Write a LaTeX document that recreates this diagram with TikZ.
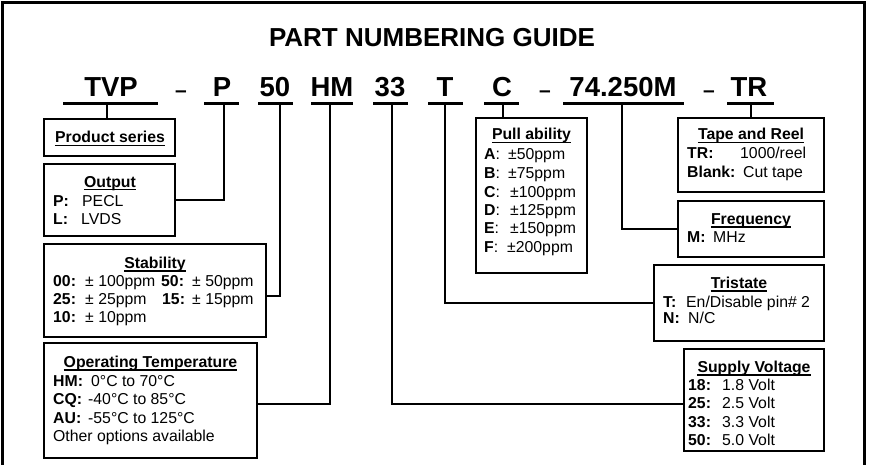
\documentclass[tikz,border=0pt]{standalone}
\usepackage{fontspec}
\setmainfont{Liberation Sans}
\newcommand{\bodyfont}{\fontsize{15.8}{18}\selectfont}
% box: name, centre x, centre y, width, height
\newcommand{\mkbox}[5]{\node[boxst, minimum width=#4pt, minimum height=#5pt] (#1) at (#2,#3) {};}
% heading: name, x, baseline y, text
\newcommand{\mkhd}[4]{\node[hdst] (#1) at (#2,#3) {#4};
  \draw[ulst] ([yshift=-2.8pt]#1.base west) -- ([yshift=-2.8pt]#1.base east);}
% key/value row: name, x label, x value, baseline y, label, value
\newcommand{\kv}[6]{\node[txtst] (#1a) at (#2,#4) {#5}; \node[txtst] (#1b) at (#3,#4) {#6};}
\begin{document}
\begin{tikzpicture}[x=1pt,y=-1pt,
  boxst/.style={draw, line width=2.6pt, rectangle, inner sep=0pt},
  txtst/.style={anchor=base west, inner sep=0pt, font=\bodyfont},
  hdst/.style={anchor=base, inner sep=0pt, font=\bodyfont\bfseries},
  ulst/.style={line width=1.4pt},
  codest/.style={anchor=base, inner sep=0pt, font=\fontsize{27.5}{30}\selectfont\bfseries},
  dashst/.style={anchor=base, inner sep=0pt, font=\fontsize{21}{24}\selectfont\bfseries},
  codeul/.style={line width=3pt},
  conn/.style={line width=2pt}]
\useasboundingbox (0,0) rectangle (872,465);
% outer frame
\draw[line width=3pt] (2.5,470) -- (2.5,2.5) -- (864.5,2.5) -- (864.5,470);
% title
\node[anchor=base, inner sep=0pt, font=\fontsize{26}{30}\selectfont\bfseries] (title) at (432,47) {PART NUMBERING GUIDE};
% part code
\node[codest] (cTVP) at (111,97) {TVP};
\node[dashst] (d1) at (181,98) {–};
\node[codest] (cP) at (222,97) {P};
\node[codest] (c50) at (275,97) {50};
\node[codest] (cHM) at (332,97) {HM};
\node[codest] (c33) at (390,97) {33};
\node[codest] (cT) at (445,97) {T};
\node[codest] (cC) at (502,97) {C};
\node[dashst] (d2) at (545,98) {–};
\node[codest] (cF) at (623,97) {74.250M};
\node[dashst] (d3) at (709,98) {–};
\node[codest] (cTR) at (749,97) {TR};
% underlines
\draw[codeul] (63,104) -- (158,104);
\draw[codeul] (204,104) -- (239,104);
\draw[codeul] (258,104) -- (293,104);
\draw[codeul] (311,104) -- (353,104);
\draw[codeul] (373,104) -- (408,104);
\draw[codeul] (428,104) -- (463,104);
\draw[codeul] (484,104) -- (519,104);
\draw[codeul] (563,104) -- (684,104);
\draw[codeul] (727,104) -- (774,104);
\coordinate (uTVP) at (107,104);
\coordinate (uP) at (224,104);
\coordinate (u50) at (280,104);
\coordinate (uHM) at (330,104);
\coordinate (u33) at (392,104);
\coordinate (uT) at (445,104);
\coordinate (uC) at (503,104);
\coordinate (uF) at (622,104);
\coordinate (uTR) at (751,104);
% boxes
\mkbox{prod}{109.5}{137.5}{131}{37}
\mkbox{out}{109.5}{200}{131}{72}
\mkbox{stab}{155}{290.5}{222}{93}
\mkbox{temp}{150.5}{400.5}{213}{115}
\mkbox{pull}{531.5}{195.5}{111}{155}
\mkbox{tape}{751}{155}{146}{74}
\mkbox{freq}{751}{229}{146}{56}
\mkbox{tri}{739}{303}{170}{76}
\mkbox{sup}{754}{400}{140}{102}
% connectors
\draw[conn] (uTVP) -- (uTVP |- prod.north);
\draw[conn] (uP) |- (out.east);
\draw[conn] (u50) |- ([yshift=-5.5pt]stab.east);
\draw[conn] (uHM) |- ([yshift=-3.5pt]temp.east);
\draw[conn] (u33) |- ([yshift=-4pt]sup.west);
\draw[conn] (uT) |- (tri.west);
\draw[conn] (uC) -- (uC |- pull.north);
\draw[conn] (uF) |- (freq.west);
\draw[conn] (uTR) -- (uTR |- tape.north);
% Product series
\mkhd{hprod}{110}{143}{Product series}
% Output
\mkhd{hout}{110}{187}{Output}
\kv{oP}{53}{82}{206}{\textbf{P:}}{PECL}
\kv{oL}{53}{81}{224}{\textbf{L:}}{LVDS}
% Stability
\mkhd{hstab}{155}{268}{Stability}
\kv{s00}{53}{85}{286}{\textbf{00:}}{± 100ppm}
\kv{s50}{161}{192}{286}{\textbf{50:}}{± 50ppm}
\kv{s25}{53}{85}{304}{\textbf{25:}}{± 25ppm}
\kv{s15}{162}{192}{304}{\textbf{15:}}{± 15ppm}
\kv{s10}{53}{85}{322}{\textbf{10:}}{± 10ppm}
% Operating temperature
\mkhd{htemp}{150.5}{367}{Operating Temperature}
\kv{tHM}{53}{91}{386}{\textbf{HM:}}{0°C to 70°C}
\kv{tCQ}{53}{88}{404}{\textbf{CQ:}}{-40°C to 85°C}
\kv{tAU}{53}{88}{423}{\textbf{AU:}}{-55°C to 125°C}
\node[txtst] (tOther) at (53,441) {Other options available};
% Pull ability
\mkhd{hpull}{531.5}{140}{Pull ability}
\kv{pA}{484}{508}{160}{\textbf{A}:}{±50ppm}
\kv{pB}{484}{508}{178.5}{\textbf{B}:}{±75ppm}
\kv{pC}{484}{510}{197}{\textbf{C}:}{±100ppm}
\kv{pD}{484}{510}{215}{\textbf{D}:}{±125ppm}
\kv{pE}{484}{510}{233.5}{\textbf{E}:}{±150ppm}
\kv{pF}{484}{507}{252}{\textbf{F}:}{±200ppm}
% Tape and reel
\mkhd{htape}{751}{140}{Tape and Reel}
\kv{rTR}{687}{740}{159}{\textbf{TR:}}{1000/reel}
\kv{rBl}{687}{743}{178}{\textbf{Blank:}}{Cut tape}
% Frequency
\mkhd{hfreq}{751}{224}{Frequency}
\kv{fM}{687}{713}{242}{\textbf{M:}}{MHz}
% Tristate
\mkhd{htri}{739}{288}{Tristate}
\kv{iT}{663}{686}{307}{\textbf{T:}}{En/Disable pin\# 2}
\kv{iN}{663}{688}{323}{\textbf{N:}}{N/C}
% Supply voltage
\mkhd{hsup}{754}{372}{Supply Voltage}
\kv{v18}{688}{722}{390}{\textbf{18:}}{1.8 Volt}
\kv{v25}{688}{722}{408}{\textbf{25:}}{2.5 Volt}
\kv{v33}{688}{722}{427}{\textbf{33:}}{3.3 Volt}
\kv{v50}{688}{722}{445}{\textbf{50:}}{5.0 Volt}
\end{tikzpicture}
\end{document}
